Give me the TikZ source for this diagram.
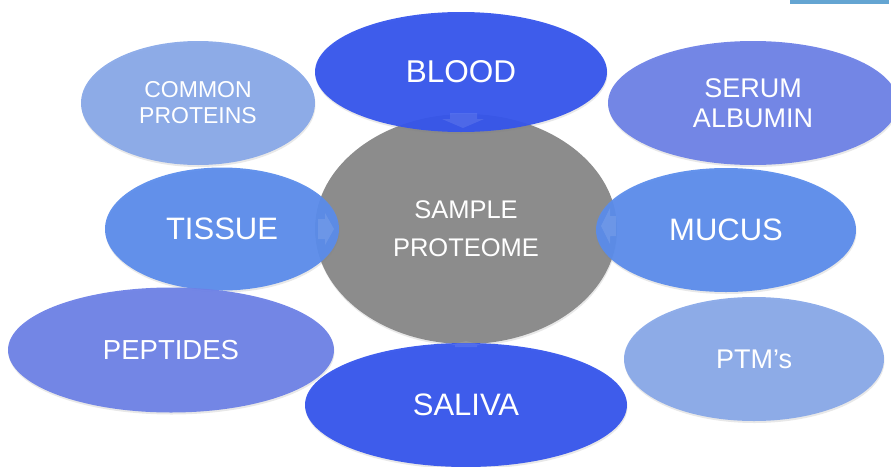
\documentclass[tikz,border=0pt]{standalone}
\usepackage{fontspec}
\setmainfont{Liberation Sans}
\usetikzlibrary{shapes.geometric,shadows}
\definecolor{cDeep}{RGB}{52,84,236}
\definecolor{cMid}{RGB}{90,140,235}
\definecolor{cViolet}{RGB}{108,128,230}
\definecolor{cLight}{RGB}{136,168,232}
\definecolor{cGray}{RGB}{140,140,140}
\definecolor{cBar}{RGB}{100,165,210}
\begin{document}
\begin{tikzpicture}[x=1pt,y=-1pt,
  bub/.style={ellipse, inner sep=0pt, text=white, align=center,
    fill opacity=0.94, text opacity=1,
    drop shadow={opacity=0.18, shadow xshift=0.5pt, shadow yshift=-2pt}},
  fs/.style 2 args={font=\fontsize{#1}{#2}\selectfont},
  arrowfill/.style={fill=white, fill opacity=0.10},
]
\useasboundingbox (0,0) rectangle (891,466);
\fill[cBar] (790,0) rectangle (889,4);

% centre
\node[bub, fill=cGray, fill opacity=1, minimum width=302pt, minimum height=230pt, fs={25.5}{38}] (core) at (466,229) {SAMPLE\\PROTEOME};

% satellites
\node[bub, fill=cLight, minimum width=234pt, minimum height=124pt, fs={23}{26}] (common) at (198,103) {COMMON\\PROTEINS};
\node[bub, fill=cViolet, minimum width=290pt, minimum height=124pt, fs={27}{30}] (serum) at (753,103) {SERUM\\ALBUMIN};
\node[bub, fill=cMid, minimum width=234pt, minimum height=123pt, fs={31}{36}] (tissue) at (222,229) {TISSUE};
\node[bub, fill=cMid, minimum width=260pt, minimum height=124pt, fs={31}{36}] (mucus) at (726,230) {MUCUS};
\node[bub, fill=cViolet, minimum width=326pt, minimum height=125pt, fs={27.5}{32}] (peptides) at (171,350) {PEPTIDES};
\node[bub, fill=cLight, minimum width=260pt, minimum height=124pt, fs={27}{32}] (ptm) at (754,359) {PTM’s};
\node[bub, fill=cDeep, minimum width=292pt, minimum height=120pt, fs={31.5}{36}] (blood) at (461,72) {BLOOD};
\node[bub, fill=cDeep, minimum width=322pt, minimum height=124pt, fs={31}{36}] (saliva) at (466,405) {SALIVA};

% faint arrows in the overlaps
\fill[arrowfill] (450,113) -- (477,113) -- (477,119) -- (484,119) -- (463,128) -- (442,119) -- (450,119) -- cycle;
\fill[arrowfill] (318,219) -- (325,219) -- (325,213) -- (334,229) -- (325,245) -- (325,239) -- (318,239) -- cycle;
\fill[arrowfill] (616,216) -- (610,216) -- (610,208) -- (601,226) -- (610,244) -- (610,236) -- (616,236) -- cycle;
\fill[arrowfill] (455,347) -- (455,345) -- (450,345) -- (466,341) -- (482,345) -- (477,345) -- (477,347) -- cycle;
\end{tikzpicture}
\end{document}
